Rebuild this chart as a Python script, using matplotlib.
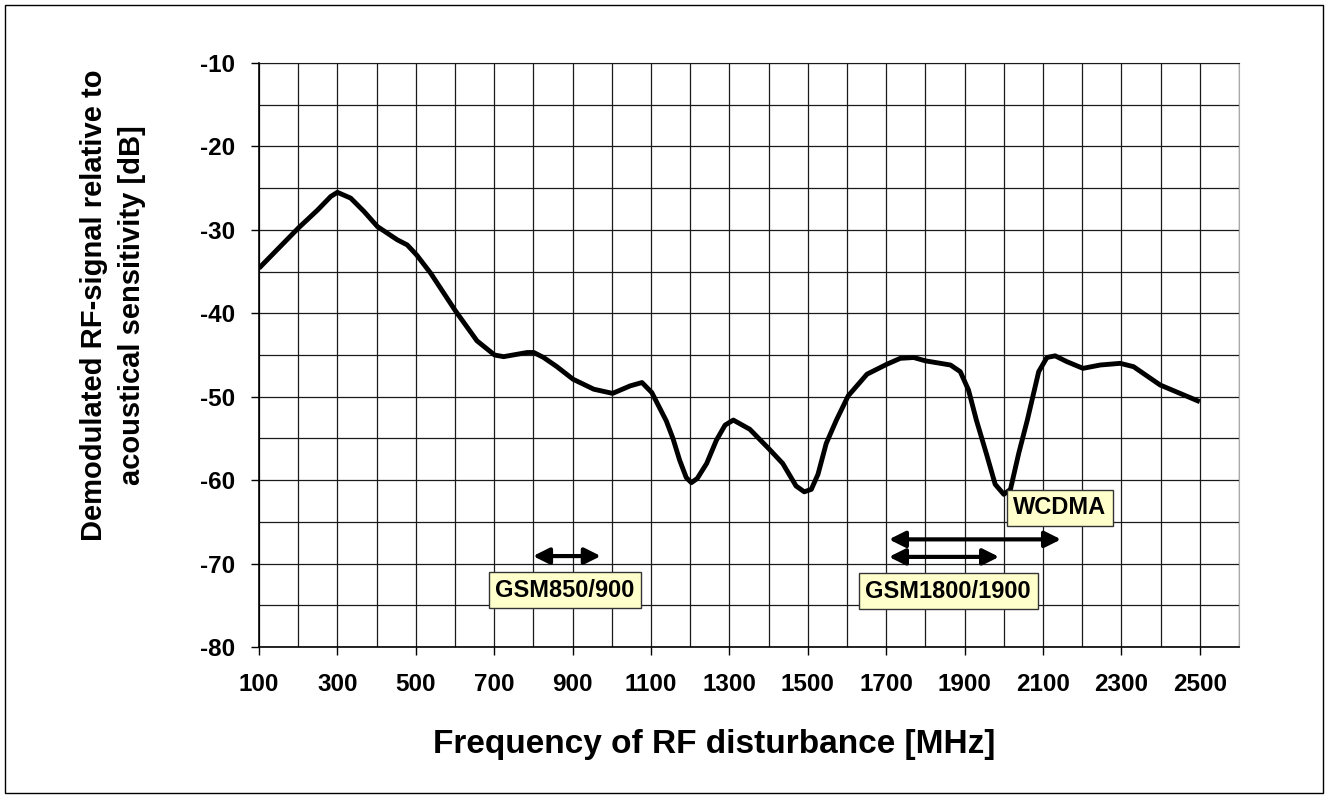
import matplotlib.pyplot as plt
from matplotlib.patches import Rectangle
from matplotlib.ticker import MultipleLocator

plt.rcParams["font.family"] = ["Liberation Sans", "DejaVu Sans"]
plt.rcParams["font.weight"] = "bold"
plt.rcParams["axes.unicode_minus"] = False

# curve (MHz, dB)
freq_mhz = [100, 150, 200, 250, 283, 300, 334, 368, 402, 453, 478, 502, 538, 601,
            656, 701, 724, 760, 784, 801, 826, 860, 901, 954, 1002, 1047, 1077,
            1102, 1139, 1156, 1173, 1190, 1203, 1218, 1242, 1267, 1289, 1310, 1352,
            1402, 1436, 1470, 1491, 1509, 1526, 1547, 1573, 1603, 1651, 1702, 1736,
            1770, 1800, 1864, 1889, 1910, 1930, 1956, 1978, 2000, 2017, 2038, 2060,
            2089, 2110, 2131, 2161, 2202, 2246, 2297, 2331, 2399, 2500]
level_db = [-34.6, -32.2, -29.8, -27.6, -26.0, -25.5, -26.2, -27.8, -29.6, -31.2,
            -31.8, -33.0, -35.2, -39.7, -43.3, -45.0, -45.2, -44.9, -44.7, -44.7,
            -45.3, -46.4, -47.9, -49.1, -49.6, -48.7, -48.3, -49.5, -52.9, -55.0,
            -57.6, -59.7, -60.3, -59.8, -58.0, -55.2, -53.4, -52.8, -53.9, -56.3,
            -58.0, -60.7, -61.4, -61.1, -59.3, -55.6, -52.8, -49.9, -47.3, -46.1,
            -45.4, -45.3, -45.7, -46.2, -47.0, -49.2, -52.8, -56.9, -60.5, -61.7,
            -61.1, -56.8, -52.8, -47.0, -45.3, -45.1, -45.8, -46.6, -46.2, -46.0,
            -46.4, -48.6, -50.6]

# frequency bands (arrows) and their labels
band_names = ["GSM850/900", "GSM1800/1900", "WCDMA"]
band_start = [799, 1707, 1707]
band_end = [972, 1988, 2146]
band_level = [-69.1, -69.2, -67.1]
label_x = [881, 1858, 2143]
label_y = [-73.2, -73.3, -63.3]

x_ticks = list(range(100, 2600, 200))
y_ticks = list(range(-80, 0, 10))

fig = plt.figure(figsize=(13.29, 7.98), dpi=100)
ax = fig.add_axes([259 / 1329, 1 - 647 / 798, (1239 - 259) / 1329, (647 - 63) / 798])

ax.set_xlim(100, 2600)
ax.set_ylim(-80, -10)
ax.xaxis.set_minor_locator(MultipleLocator(100))
ax.yaxis.set_minor_locator(MultipleLocator(5))
ax.set_xticks(x_ticks)
ax.set_yticks(y_ticks)
ax.grid(which="both", color="#1a1a1a", lw=0.9)
ax.set_axisbelow(True)
ax.tick_params(which="major", direction="out", length=6, width=1, colors="black",
               labelsize=17.5, pad=11)
ax.tick_params(axis="x", pad=13)
ax.tick_params(which="minor", length=0)
for s in ("left", "bottom"):
    ax.spines[s].set_linewidth(1.2)
ax.spines["right"].set_color("#aaaaaa")
ax.spines["top"].set_color("#1a1a1a")

ax.plot(freq_mhz, level_db, color="black", lw=3.5, solid_joinstyle="round",
        solid_capstyle="butt", zorder=3)

for x0, x1, y in zip(band_start, band_end, band_level):
    ax.annotate("", xy=(x1, y), xytext=(x0, y),
                arrowprops=dict(arrowstyle="<|-|>", color="black", lw=3,
                                mutation_scale=24, shrinkA=0, shrinkB=0), zorder=4)

for name, x, y in zip(band_names, label_x, label_y):
    ax.text(x, y, name, ha="center", va="center", fontsize=17, fontweight="bold",
            bbox=dict(boxstyle="square,pad=0.28", facecolor="#ffffcc",
                      edgecolor="#333333", lw=1), zorder=5)

fig.text(113 / 1329, 1 - 305 / 798,
         "Demodulated RF-signal relative to\nacoustical sensitivity [dB]",
         rotation=90, ha="center", va="center", fontsize=21, fontweight="bold",
         linespacing=1.45)
fig.text(714 / 1329, 1 - 745 / 798, "Frequency of RF disturbance [MHz]",
         ha="center", va="center", fontsize=24, fontweight="bold")

fig.patches.append(Rectangle((5 / 1329, 5 / 798), 1318 / 1329, 788 / 798,
                             transform=fig.transFigure, fill=False,
                             edgecolor="black", lw=1))

fig.savefig("out.png", dpi=100)
